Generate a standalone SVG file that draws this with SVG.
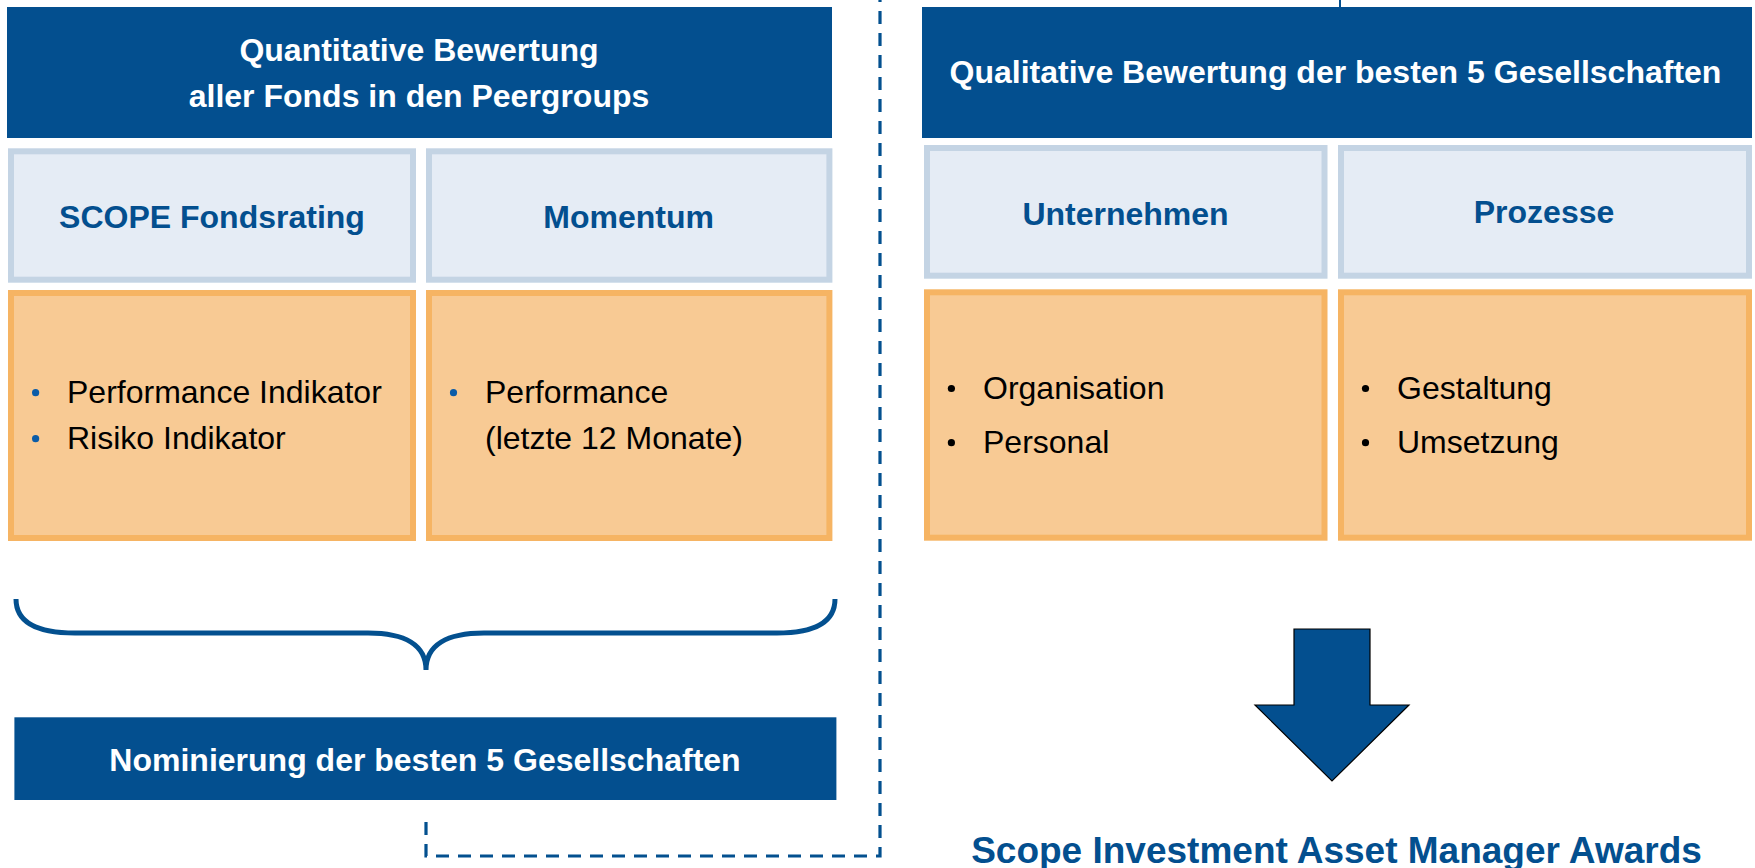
<svg xmlns="http://www.w3.org/2000/svg" width="1755" height="868" viewBox="0 0 1755 868">
<style>
.hdr{fill:#034F8F}
.lt{fill:#E5ECF5;stroke:#C4D4E4;stroke-width:6}
.or{fill:#F8CA94;stroke:#F6B463;stroke-width:6}
.tw{font-family:"Liberation Sans",Arial,sans-serif;font-weight:bold;font-size:32px;fill:#FFFFFF;text-anchor:middle}
.tb{font-family:"Liberation Sans",Arial,sans-serif;font-weight:bold;font-size:32px;fill:#034F8F;text-anchor:middle}
.tx{font-family:"Liberation Sans",Arial,sans-serif;font-size:32px;fill:#000000}
.conn{fill:none;stroke:#03508F;stroke-width:3.2}
</style>
<rect width="1755" height="868" fill="#FFFFFF"/>
<g id="connectors">
<path class="conn" d="M426,822 L426,856 L880,856 L880,0" stroke-dasharray="13 9"/>
<line x1="1340" y1="0" x2="1340" y2="8" stroke="#03508F" stroke-width="2"/>
<path id="brace" class="conn" style="stroke-width:5" d="M16,599 C16,622 36,633 75,633 L368,633 C405,633 426,645 426,670 C426,645 447,633 484,633 L777,633 C816,633 835,622 835,599"/>
</g>
<g id="quant-header">
<rect class="hdr" x="7" y="7" width="825" height="131"/>
<text class="tw" x="419" y="61">Quantitative Bewertung</text>
<text class="tw" x="419" y="106.5">aller Fonds in den Peergroups</text>
</g>
<g id="scope-fondsrating">
<rect class="lt" x="11" y="151.3" width="402" height="128.4"/>
<text class="tb" x="212" y="227.5">SCOPE Fondsrating</text>
</g>
<g id="momentum">
<rect class="lt" x="429" y="151.3" width="400.4" height="128.4"/>
<text class="tb" x="628.7" y="227.5">Momentum</text>
</g>
<g id="scope-details">
<rect class="or" x="11" y="293" width="402" height="245"/>
<circle cx="35.6" cy="392.7" r="3.6" fill="#0B5CA8"/>
<circle cx="35.6" cy="438.7" r="3.6" fill="#0B5CA8"/>
<text class="tx" x="67" y="403">Performance Indikator</text>
<text class="tx" x="67" y="449.3">Risiko Indikator</text>
</g>
<g id="momentum-details">
<rect class="or" x="429" y="293" width="400.4" height="245"/>
<circle cx="453.5" cy="392.7" r="3.6" fill="#0B5CA8"/>
<text class="tx" x="485" y="403">Performance</text>
<text class="tx" x="485" y="449.3">(letzte 12 Monate)</text>
</g>
<g id="nominierung">
<rect class="hdr" x="14.4" y="717.3" width="822" height="82.7"/>
<text class="tw" x="425" y="771">Nominierung der besten 5 Gesellschaften</text>
</g>
<g id="qual-header">
<rect class="hdr" x="922" y="7" width="830" height="131"/>
<text class="tw" x="1335.5" y="83">Qualitative Bewertung der besten 5 Gesellschaften</text>
</g>
<g id="unternehmen">
<rect class="lt" x="927" y="148" width="397.5" height="127.7"/>
<text class="tb" x="1125.5" y="224.5">Unternehmen</text>
</g>
<g id="prozesse">
<rect class="lt" x="1341" y="148" width="408" height="127.7"/>
<text class="tb" x="1544" y="222.5">Prozesse</text>
</g>
<g id="unternehmen-details">
<rect class="or" x="927" y="292.3" width="397.5" height="245.4"/>
<circle cx="951.4" cy="388.5" r="3.6" fill="#000000"/>
<circle cx="951.4" cy="442.7" r="3.6" fill="#000000"/>
<text class="tx" x="983" y="399">Organisation</text>
<text class="tx" x="983" y="453">Personal</text>
</g>
<g id="prozesse-details">
<rect class="or" x="1341" y="292.3" width="408" height="245.4"/>
<circle cx="1365.5" cy="388.5" r="3.6" fill="#000000"/>
<circle cx="1365.5" cy="442.7" r="3.6" fill="#000000"/>
<text class="tx" x="1397" y="399">Gestaltung</text>
<text class="tx" x="1397" y="453">Umsetzung</text>
</g>
<g id="award-arrow">
<polygon points="1294,629 1370,629 1370,705 1409,705 1332,781 1255,705 1294,705" fill="#034F8F" stroke="#000000" stroke-width="1.2"/>
</g>
<g id="awards">
<text class="tb" x="1336.5" y="863" style="font-size:37px">Scope Investment Asset Manager Awards</text>
</g>
</svg>
